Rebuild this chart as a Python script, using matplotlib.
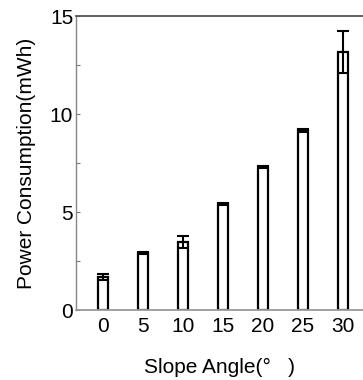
import matplotlib
matplotlib.use("Agg")
from matplotlib import pyplot as plt
from matplotlib.ticker import MultipleLocator

# data
angles = ['0', '5', '10', '15', '20', '25', '30']
power = [1.68, 2.9, 3.47, 5.42, 7.3, 9.18, 13.18]
errors = [0.15, 0.05, 0.3, 0.06, 0.05, 0.08, 1.07]

plt.rcParams['font.family'] = ['Liberation Sans', 'DejaVu Sans']

fig = plt.figure(figsize=(3.63, 3.8), dpi=100)
ax = fig.add_axes([76 / 363, 1 - 310 / 380, 287 / 363, 294 / 380])

x = range(len(angles))
ax.bar(x, power, width=0.27, color='white', edgecolor='black', linewidth=1.6,
       yerr=errors, capsize=4.5, error_kw=dict(elinewidth=1.5, capthick=1.5, ecolor='black'))

ax.set_xlim(-0.675, 6.5)
ax.set_ylim(0, 15)
ax.set_xticks(list(x))
ax.set_xticklabels(angles)
ax.yaxis.set_major_locator(MultipleLocator(5))
ax.yaxis.set_minor_locator(MultipleLocator(2.5))
ax.tick_params(axis='y', which='both', direction='in', length=3, width=0.8, color='#777777',
               labelsize=15, pad=2)
ax.tick_params(axis='x', length=0, labelsize=15, pad=5)

ax.spines['top'].set_color('#555555')
ax.spines['top'].set_linewidth(1.3)
ax.spines['bottom'].set_color('#999999')
ax.spines['bottom'].set_linewidth(1.3)
ax.spines['left'].set_color('#888888')
ax.spines['left'].set_linewidth(1.0)
ax.spines['right'].set_visible(False)

ax.set_ylabel('Power Consumption(mWh)', fontsize=15, labelpad=10)
ax.set_xlabel('Slope Angle(°   )', fontsize=15, labelpad=16)

plt.savefig('out.png', dpi=100)
